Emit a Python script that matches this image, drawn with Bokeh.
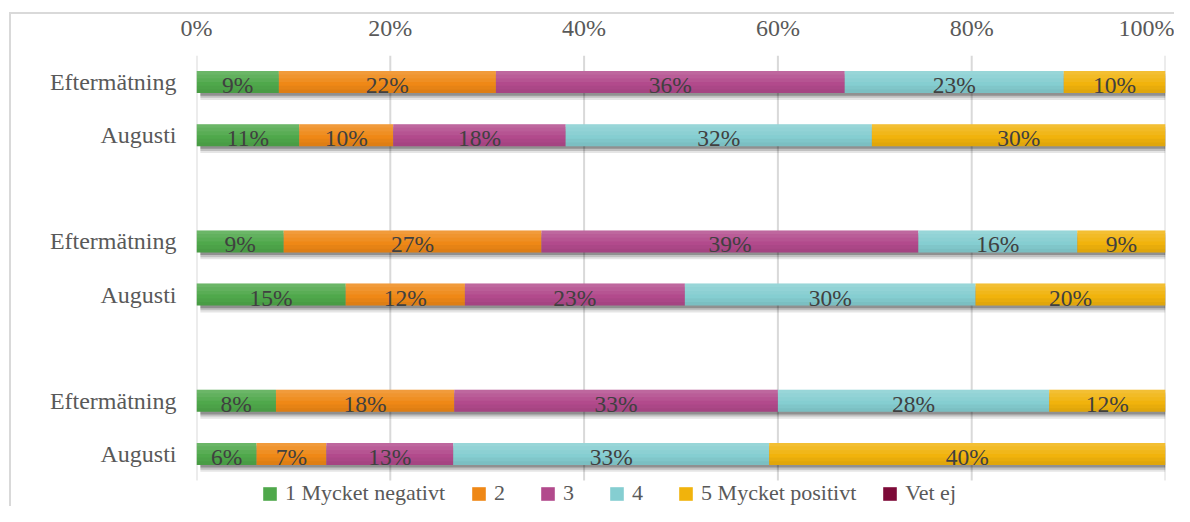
from bokeh.plotting import figure
from bokeh.models import (ColumnDataSource, FixedTicker, NumeralTickFormatter, Legend,
                          LegendItem, Range1d, InlineStyleSheet)
from bokeh.embed import file_html
from bokeh.resources import INLINE
from bokeh.core.properties import value

# ---------------- data ----------------
row_labels = ["Eftermätning", "Augusti", "Eftermätning", "Augusti", "Eftermätning", "Augusti"]
row_slots = [0, 1, 3, 4, 6, 7]          # slots 2 and 5 are empty gaps between groups
series_names = ["1 Mycket negativt", "2", "3", "4", "5 Mycket positivt", "Vet ej"]
colors = ["#4fa84b", "#ef8816", "#b24a8c", "#85ced1", "#f1b30c", "#7d0a38"]

s1 = [8.5, 10.6, 9.0, 15.4, 8.2, 6.2]
s2 = [22.4, 9.7, 26.6, 12.3, 18.4, 7.2]
s3 = [36.0, 17.8, 38.9, 22.7, 33.4, 13.1]
s4 = [22.6, 31.6, 16.4, 30.0, 28.0, 32.6]
s5 = [10.5, 30.3, 9.1, 19.6, 12.0, 40.9]
s6 = [0.0, 0.0, 0.0, 0.0, 0.0, 0.0]

lab1 = ["9%", "11%", "9%", "15%", "8%", "6%"]
lab2 = ["22%", "10%", "27%", "12%", "18%", "7%"]
lab3 = ["36%", "18%", "39%", "23%", "33%", "13%"]
lab4 = ["23%", "32%", "16%", "30%", "28%", "33%"]
lab5 = ["10%", "30%", "9%", "20%", "12%", "40%"]

x_ticks = [0, 0.2, 0.4, 0.6, 0.8, 1.0]

series = [s1, s2, s3, s4, s5, s6]
labels = [lab1, lab2, lab3, lab4, lab5, None]

FONT = "Liberation Serif"
BAR_H = 0.414
SLOT_TOP, SLOT_BOTTOM = -0.5, 7.5       # extent of the category slots (gridline span)

css = InlineStyleSheet(css="""
:host { position: relative; }
:host::after {
  content: ''; position: absolute; left: 9px; top: 12px; right: 0px; bottom: 0px;
  border-left: 2px solid #d9d9d9; border-top: 2px solid #d9d9d9;
  pointer-events: none;
}
""")

W, H = 1174, 506
TOP, LEFT, RIGHT = 55, 196, 9
slot_px = 425 / 8.0
p = figure(width=W, height=H, output_backend="svg", toolbar_location=None,
           x_range=Range1d(0, 1), y_range=Range1d(SLOT_TOP + (H - TOP) / slot_px, SLOT_TOP),
           x_axis_location="above", y_axis_location="left",
           min_border_left=LEFT, min_border_right=RIGHT, min_border_top=TOP, min_border_bottom=0)
p.stylesheets = [css]
p.outline_line_color = None
p.background_fill_color = "white"
p.border_fill_color = "white"

# axes
xa = p.xaxis[0]
xa.ticker = FixedTicker(ticks=x_ticks)
xa.formatter = NumeralTickFormatter(format="0%")
xa.axis_line_color = None
xa.major_tick_line_color = None
xa.minor_tick_line_color = None
xa.major_tick_out = 0
xa.major_tick_in = 0
xa.major_label_standoff = 15
xa.major_label_text_font = FONT
xa.major_label_text_font_size = "24px"
xa.major_label_text_color = "#595959"

ya = p.yaxis[0]
ya.ticker = FixedTicker(ticks=row_slots)
ya.major_label_overrides = {s: l for s, l in zip(row_slots, row_labels)}
ya.axis_line_color = None
ya.major_tick_line_color = None
ya.minor_tick_line_color = None
ya.major_tick_out = 0
ya.major_tick_in = 0
ya.major_label_standoff = 20
ya.major_label_text_font = FONT
ya.major_label_text_font_size = "24px"
ya.major_label_text_color = "#595959"

p.xgrid.grid_line_color = None
p.ygrid.grid_line_color = None
# vertical gridlines at the x ticks, spanning the category slots only
p.segment(x0=x_ticks, x1=x_ticks, y0=[SLOT_TOP] * len(x_ticks), y1=[SLOT_BOTTOM] * len(x_ticks),
          line_color="#d9d9d9", line_width=2)

# shadows under the bars (derived from bar totals)
totals = [sum(v[i] for v in series) / 100 for i in range(len(row_slots))]
for off, alpha in [(0.13, 0.10), (0.09, 0.16), (0.05, 0.25)]:
    sh = ColumnDataSource(dict(y=[r + off for r in row_slots], left=[0.004] * len(row_slots), right=totals))
    p.hbar(y="y", left="left", right="right", height=BAR_H, source=sh,
           fill_color="black", fill_alpha=alpha, line_color=None)

# gradient overlay bands: (position index from top, colour, alpha)
bands = [(0, "white", 0.16), (1, "white", 0.11), (2, "white", 0.06),
         (3, "white", 0.0), (4, "black", 0.035), (5, "black", 0.07)]
NB = len(bands)

# stacked bars
cum = [0.0] * len(row_slots)
renderers = []
for name, vals, col, labs in zip(series_names, series, colors, labels):
    left = [c for c in cum]
    right = [c + v / 100 for c, v in zip(cum, vals)]
    cum = right
    src = ColumnDataSource(dict(y=row_slots, left=left, right=right,
                                mid=[(a + b) / 2 for a, b in zip(left, right)]))
    r = p.hbar(y="y", left="left", right="right", height=BAR_H, source=src,
               fill_color=col, line_color=None)
    renderers.append(r)
    for k, bc, ba in bands:
        if ba == 0:
            continue
        bsrc = ColumnDataSource(dict(y=[s - BAR_H / 2 + BAR_H * (k + 0.5) / NB for s in row_slots],
                                     left=left, right=right))
        p.hbar(y="y", left="left", right="right", height=BAR_H / NB, source=bsrc,
               fill_color=bc, fill_alpha=ba, line_color=None)
    if labs is not None:
        src.data["lab"] = labs
        p.text(x="mid", y="y", text="lab", source=src, text_align="center",
               text_baseline="middle", y_offset=3, text_font=value(FONT),
               text_font_size="23.5px", text_color="#404040")

legend = Legend(items=[LegendItem(label=n, renderers=[r]) for n, r in zip(series_names, renderers)],
                orientation="horizontal", location=(65, 0))
legend.glyph_width = 17
legend.glyph_height = 17
legend.label_standoff = 7
legend.spacing = 25
legend.padding = 0
legend.margin = 0
legend.border_line_color = None
legend.background_fill_alpha = 0
legend.label_text_font = FONT
legend.label_text_font_size = "22px"
legend.label_text_color = "#595959"
legend.label_height = 24
p.add_layout(legend, "center")

open("out.html", "w").write(file_html(p, INLINE))
